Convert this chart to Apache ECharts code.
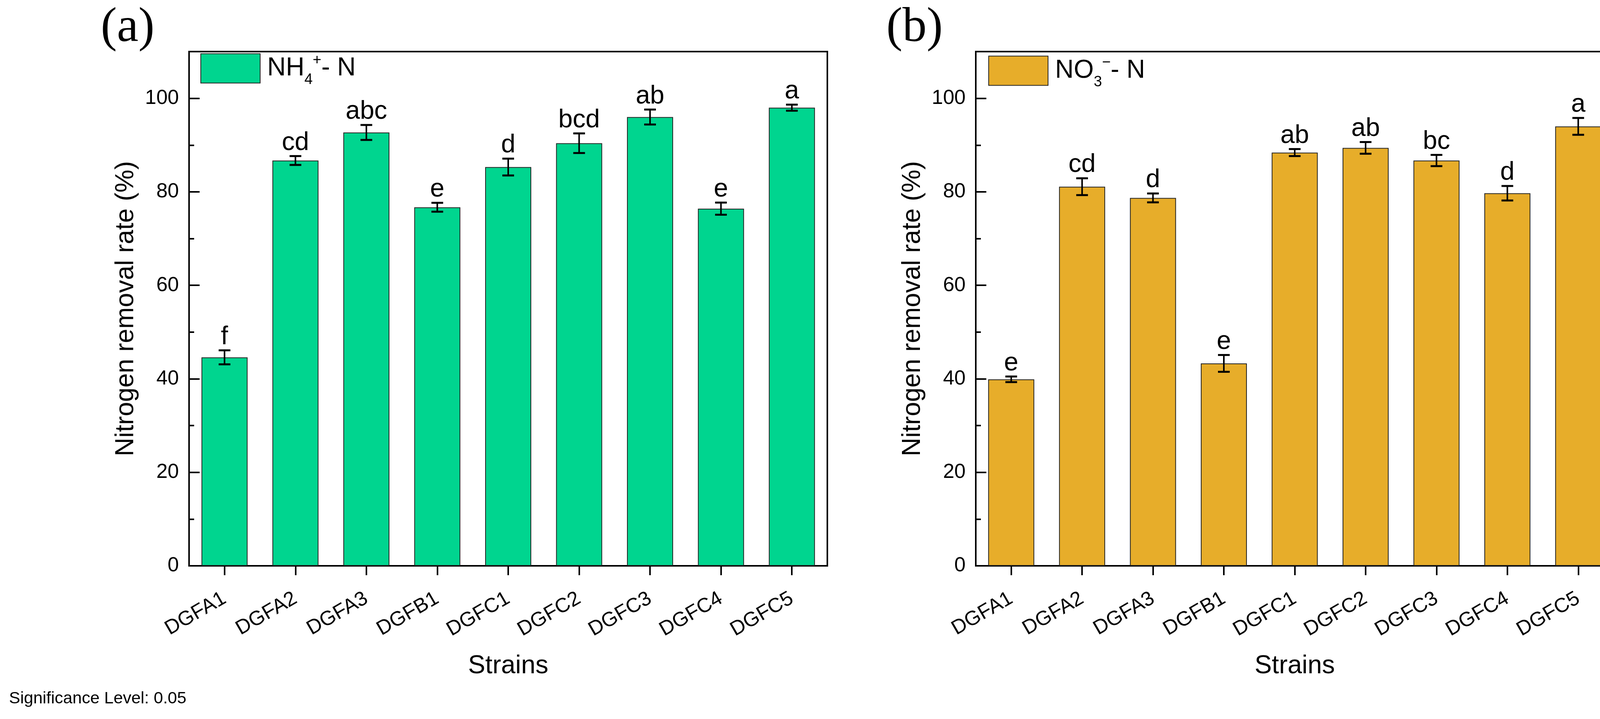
<!DOCTYPE html>
<html>
<head>
<meta charset="utf-8">
<script src="https://cdn.jsdelivr.net/npm/echarts@6/dist/echarts.min.js"></script>
<style>
html,body{margin:0;padding:0;background:#fff;overflow:hidden;}
#c{width:4158px;height:1840px;}
</style>
</head>
<body>
<div id="c"></div>
<script>
const categories = ['DGFA1','DGFA2','DGFA3','DGFB1','DGFC1','DGFC2','DGFC3','DGFC4','DGFC5'];
const nh4Mean = [44.6, 86.7, 92.7, 76.7, 85.3, 90.4, 96.0, 76.4, 98.0];
const nh4Err = [1.5, 0.95, 1.6, 0.95, 1.8, 2.1, 1.6, 1.3, 0.65];
const nh4Letters = ['f','cd','abc','e','d','bcd','ab','e','a'];
const no3Mean = [39.9, 81.1, 78.7, 43.3, 88.4, 89.4, 86.7, 79.7, 94.0];
const no3Err = [0.6, 1.8, 0.95, 1.8, 0.75, 1.25, 1.2, 1.55, 1.8];
const no3Letters = ['e','cd','d','e','ab','ab','bc','d','a'];
const yMin = 0, yMax = 110, yMajor = 20, yMinor = 10;

const FONT = "'Liberation Sans', Arial, sans-serif";
const GREEN = '#00D58F';
const ORANGE = '#E7AD2A';

const chart = echarts.init(document.getElementById('c'), null, {renderer:'canvas'});

function yAxes(gi){
  return [{
    type:'value', gridIndex:gi, position:'left', min:yMin, max:yMax, interval:yMajor,
    axisLine:{show:true, lineStyle:{color:'#000', width:4}},
    axisTick:{show:true, inside:true, length:27, lineStyle:{color:'#000', width:4}},
    axisLabel:{fontSize:52, color:'#000', fontFamily:FONT, margin:26,
      formatter: v => (v % yMajor === 0 && v <= 100) ? String(v) : ''},
    splitLine:{show:false},
    name:'Nitrogen removal rate (%)', nameLocation:'middle', nameGap:128,
    nameTextStyle:{fontSize:66, color:'#000', fontFamily:FONT}
  },{
    type:'value', gridIndex:gi, position:'left', min:yMin, max:yMax, interval:yMinor,
    axisLine:{show:false},
    axisTick:{show:true, inside:true, length:13, lineStyle:{color:'#000', width:4}},
    axisLabel:{show:false}, splitLine:{show:false}
  }];
}
function xAxis(gi){
  return {
    type:'category', gridIndex:gi, data:categories, boundaryGap:true,
    axisLine:{show:true, lineStyle:{color:'#000', width:4}},
    axisTick:{show:true, alignWithLabel:true, length:24, lineStyle:{color:'#000', width:4}},
    axisLabel:{interval:0, rotate:30, fontSize:52, color:'#000', fontFamily:FONT, margin:80},
    name:'Strains', nameLocation:'middle', nameGap:224,
    nameTextStyle:{fontSize:66, color:'#000', fontFamily:FONT}
  };
}
function errSeries(gi, mean, err, letters){
  return {
    type:'custom', xAxisIndex:gi, yAxisIndex:gi*2, z:5, silent:true,
    data: categories.map((c,i)=>[i, mean[i], err[i]]),
    renderItem:(params, api)=>{
      const x = api.value(0), m = api.value(1), e = api.value(2);
      const t = api.coord([x, m+e]);
      const b = api.coord([x, m-e]);
      const hw = 15;
      return {type:'group', children:[
        {type:'line', shape:{x1:t[0],y1:t[1],x2:b[0],y2:b[1]}, style:{stroke:'#000', lineWidth:4}},
        {type:'line', shape:{x1:t[0]-hw,y1:t[1],x2:t[0]+hw,y2:t[1]}, style:{stroke:'#000', lineWidth:5}},
        {type:'line', shape:{x1:b[0]-hw,y1:b[1],x2:b[0]+hw,y2:b[1]}, style:{stroke:'#000', lineWidth:5}},
        {type:'text', x:t[0], y:t[1]-1, style:{text:letters[params.dataIndex], fontSize:66, fontFamily:FONT,
          fill:'#000', align:'center', verticalAlign:'bottom'}}
      ]};
    }
  };
}
const richBase = {
  n0:{fontSize:66, fontFamily:FONT, color:'#000', padding:[0,0,0,13]},
  n:{fontSize:66, fontFamily:FONT, color:'#000'},
  sub:{fontSize:38, fontFamily:FONT, color:'#000', padding:[60,0,0,0]},
  sup:{fontSize:38, fontFamily:FONT, color:'#000', padding:[0,0,40,0]}
};

const option = {
  backgroundColor:'#fff',
  animation:false,
  title:[
    {text:'(a)', left:258, top:10, padding:0, textStyle:{fontFamily:"'Liberation Serif', 'Times New Roman', serif", fontSize:124, fontWeight:'normal', color:'#000'}},
    {text:'(b)', left:2269, top:10, padding:0, textStyle:{fontFamily:"'Liberation Serif', 'Times New Roman', serif", fontSize:124, fontWeight:'normal', color:'#000'}},
    {text:'Significance Level: 0.05', left:23, top:1767, padding:0, textStyle:{fontFamily:FONT, fontSize:43, fontWeight:'normal', color:'#000'}}
  ],
  legend:[
    {data:[{name:'NH4', icon:'rect'}], left:513, top:136, padding:0, itemWidth:152, itemHeight:75, orient:'vertical',
     itemStyle:{borderColor:'#222', borderWidth:2},
     formatter:()=> '{n0|NH}{sub|4}{sup|+}{n|- N}', textStyle:{rich:richBase}},
    {data:[{name:'NO3', icon:'rect'}], left:2530, top:142, padding:0, itemWidth:152, itemHeight:75, orient:'vertical',
     itemStyle:{borderColor:'#222', borderWidth:2},
     formatter:()=> '{n0|NO}{sub|3}{sup|\u2212}{n|- N}', textStyle:{rich:richBase}}
  ],
  grid:[
    {left:484, top:132, width:1634, height:1316, show:true, borderColor:'#000', borderWidth:4, backgroundColor:'transparent'},
    {left:2498, top:132, width:1633, height:1316, show:true, borderColor:'#000', borderWidth:4, backgroundColor:'transparent'}
  ],
  xAxis:[xAxis(0), xAxis(1)],
  yAxis:[...yAxes(0), ...yAxes(1)],
  series:[
    {name:'NH4', type:'bar', xAxisIndex:0, yAxisIndex:0, data:nh4Mean, barWidth:'65%',
     itemStyle:{color:GREEN, borderColor:'#222', borderWidth:2}},
    {name:'NO3', type:'bar', xAxisIndex:1, yAxisIndex:2, data:no3Mean, barWidth:'65%',
     itemStyle:{color:ORANGE, borderColor:'#222', borderWidth:2}},
    errSeries(0, nh4Mean, nh4Err, nh4Letters),
    errSeries(1, no3Mean, no3Err, no3Letters)
  ]
};
chart.setOption(option);
</script>
</body>
</html>
